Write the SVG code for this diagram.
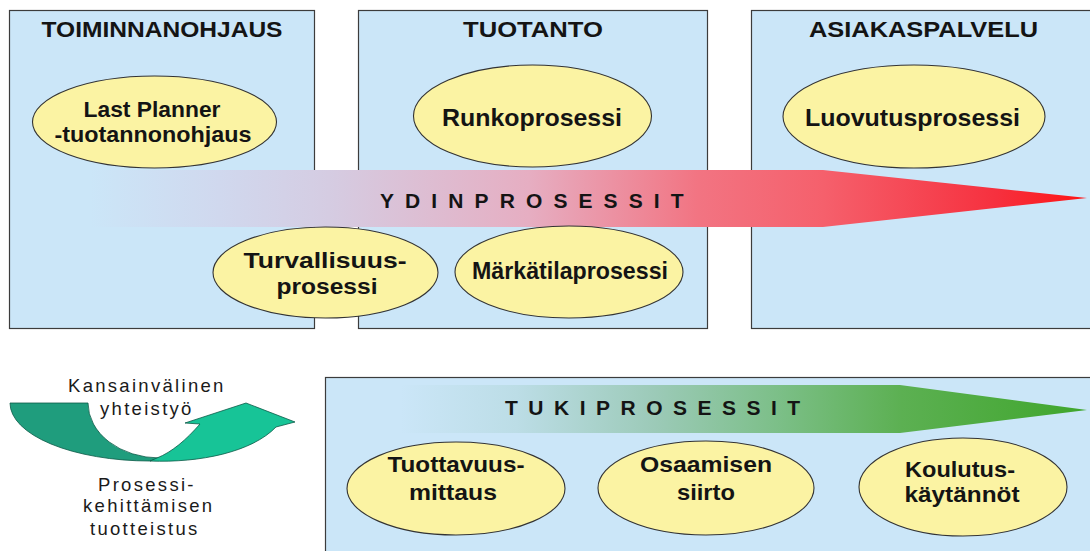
<svg xmlns="http://www.w3.org/2000/svg" width="1090" height="551" viewBox="0 0 1090 551">
  <style>
    .box { fill: #cbe6f8; stroke: #3c3c3c; stroke-width: 1.2; }
    .ell { fill: #fbf3a3; stroke: #333333; stroke-width: 1.1; }
    .title { font-family: "Liberation Sans", Arial, sans-serif; font-weight: bold; font-size: 22px; fill: #141414; text-anchor: middle; }
    .lbl { font-family: "Liberation Sans", Arial, sans-serif; font-weight: bold; font-size: 24px; fill: #141414; text-anchor: middle; }
    .lbl2 { font-family: "Liberation Sans", Arial, sans-serif; font-weight: bold; font-size: 22px; fill: #141414; text-anchor: middle; }
    .band { font-family: "Liberation Sans", Arial, sans-serif; font-weight: bold; font-size: 21px; fill: #141414; }
    .side { font-family: "Liberation Sans", Arial, sans-serif; font-size: 18.5px; fill: #1a1a1a; letter-spacing: 2.3px; }
  </style>
  <defs>
    <linearGradient id="gYdin" gradientUnits="userSpaceOnUse" x1="90" y1="0" x2="1087" y2="0">
      <stop offset="0" stop-color="#cbe6f8"/>
      <stop offset="0.13" stop-color="#d0d8ee"/>
      <stop offset="0.24" stop-color="#d5cce2"/>
      <stop offset="0.44" stop-color="#e6aec2"/>
      <stop offset="0.61" stop-color="#f27482"/>
      <stop offset="0.735" stop-color="#f5606c"/>
      <stop offset="0.91" stop-color="#f6303e"/>
      <stop offset="1" stop-color="#ff1414"/>
    </linearGradient>
    <linearGradient id="gTuki" gradientUnits="userSpaceOnUse" x1="400" y1="0" x2="1087" y2="0">
      <stop offset="0" stop-color="#cbe6f8"/>
      <stop offset="0.17" stop-color="#bcdde6"/>
      <stop offset="0.37" stop-color="#9ccab8"/>
      <stop offset="0.55" stop-color="#7cbf88"/>
      <stop offset="0.73" stop-color="#5cb052"/>
      <stop offset="1" stop-color="#3fa62c"/>
    </linearGradient>
  </defs>

  <rect width="1090" height="551" fill="#ffffff"/>

  <!-- area boxes -->
  <g id="box-toiminnanohjaus">
    <rect class="box" x="9.5" y="10.5" width="305" height="318"/>
    <text class="title" x="162" y="37" textLength="241" lengthAdjust="spacingAndGlyphs">TOIMINNANOHJAUS</text>
  </g>
  <g id="box-tuotanto">
    <rect class="box" x="358.5" y="10.5" width="349" height="318"/>
    <text class="title" x="533" y="37" textLength="140" lengthAdjust="spacingAndGlyphs">TUOTANTO</text>
  </g>
  <g id="box-asiakaspalvelu">
    <rect class="box" x="751.5" y="10.5" width="345" height="318"/>
    <text class="title" x="923.5" y="37" textLength="229" lengthAdjust="spacingAndGlyphs">ASIAKASPALVELU</text>
  </g>
  <g id="box-tukiprosessit">
    <rect class="box" x="325.5" y="377.5" width="770" height="180"/>
  </g>

  <!-- process arrows (connectors) -->
  <g id="connectors">
    <g id="arrow-ydinprosessit">
      <path d="M 90 170 L 823 170 L 1087 198 L 823 227 L 90 227 Z" fill="url(#gYdin)"/>
      <text class="band" x="380" y="208" letter-spacing="11.1">YDINPROSESSIT</text>
    </g>
    <g id="arrow-tukiprosessit">
      <path d="M 400 385 L 900 385 L 1087 410 L 900 433 L 400 433 Z" fill="url(#gTuki)"/>
      <text class="band" x="505" y="415" letter-spacing="10.5">TUKIPROSESSIT</text>
    </g>
    <g id="arrow-kehitys">
      <path d="M 10 403 L 88 403 A 72 55 0 0 0 160 458 L 150 461 A 140 58 0 0 1 10 403 Z" fill="#1f9d7d" stroke="#0d5a48" stroke-width="0.8"/>
      <path d="M 150 461 C 200 463 252 452 276 427 L 295 422 L 246 403 L 185 423 L 200 424 C 186 440 172 452 157 458 Z" fill="#17c497" stroke="#0d5a48" stroke-width="0.8"/>
    </g>
  </g>

  <!-- process nodes -->
  <g id="node-last-planner">
    <ellipse class="ell" cx="154.5" cy="122" rx="122" ry="46"/>
    <text class="lbl2" x="152" y="117" textLength="137" lengthAdjust="spacingAndGlyphs">Last Planner</text>
    <text class="lbl2" x="153" y="142" textLength="197" lengthAdjust="spacingAndGlyphs">-tuotannonohjaus</text>
  </g>
  <g id="node-turvallisuus">
    <ellipse class="ell" cx="325.5" cy="272.5" rx="112.5" ry="45.5"/>
    <text class="lbl2" x="325" y="268" textLength="163" lengthAdjust="spacingAndGlyphs">Turvallisuus-</text>
    <text class="lbl2" x="327" y="294" textLength="101" lengthAdjust="spacingAndGlyphs">prosessi</text>
  </g>
  <g id="node-runko">
    <ellipse class="ell" cx="532.5" cy="116" rx="119" ry="51"/>
    <text class="lbl" x="532" y="126" textLength="180" lengthAdjust="spacingAndGlyphs">Runkoprosessi</text>
  </g>
  <g id="node-markatila">
    <ellipse class="ell" cx="569" cy="272" rx="114" ry="46"/>
    <text class="lbl" x="570" y="279" textLength="196" lengthAdjust="spacingAndGlyphs">Märkätilaprosessi</text>
  </g>
  <g id="node-luovutus">
    <ellipse class="ell" cx="914" cy="116.5" rx="131" ry="51.5"/>
    <text class="lbl" x="912.5" y="126" textLength="215" lengthAdjust="spacingAndGlyphs">Luovutusprosessi</text>
  </g>
  <g id="node-tuottavuus">
    <ellipse class="ell" cx="456" cy="488.5" rx="109" ry="46.5"/>
    <text class="lbl2" x="456" y="472" textLength="137" lengthAdjust="spacingAndGlyphs">Tuottavuus-</text>
    <text class="lbl2" x="453" y="500" textLength="88" lengthAdjust="spacingAndGlyphs">mittaus</text>
  </g>
  <g id="node-osaaminen">
    <ellipse class="ell" cx="706" cy="488" rx="108" ry="47"/>
    <text class="lbl2" x="706" y="472" textLength="132" lengthAdjust="spacingAndGlyphs">Osaamisen</text>
    <text class="lbl2" x="706" y="500" textLength="58" lengthAdjust="spacingAndGlyphs">siirto</text>
  </g>
  <g id="node-koulutus">
    <ellipse class="ell" cx="963" cy="487" rx="104" ry="49"/>
    <text class="lbl2" x="960" y="477" textLength="110" lengthAdjust="spacingAndGlyphs">Koulutus-</text>
    <text class="lbl2" x="962" y="502" textLength="115" lengthAdjust="spacingAndGlyphs">käytännöt</text>
  </g>

  <!-- side labels -->
  <g id="labels-kehitys">
    <text class="side" x="68" y="392">Kansainvälinen</text>
    <text class="side" x="100" y="415">yhteistyö</text>
    <text class="side" x="98" y="491">Prosessi-</text>
    <text class="side" x="83" y="512">kehittämisen</text>
    <text class="side" x="90" y="535" letter-spacing="2.8">tuotteistus</text>
  </g>
</svg>
